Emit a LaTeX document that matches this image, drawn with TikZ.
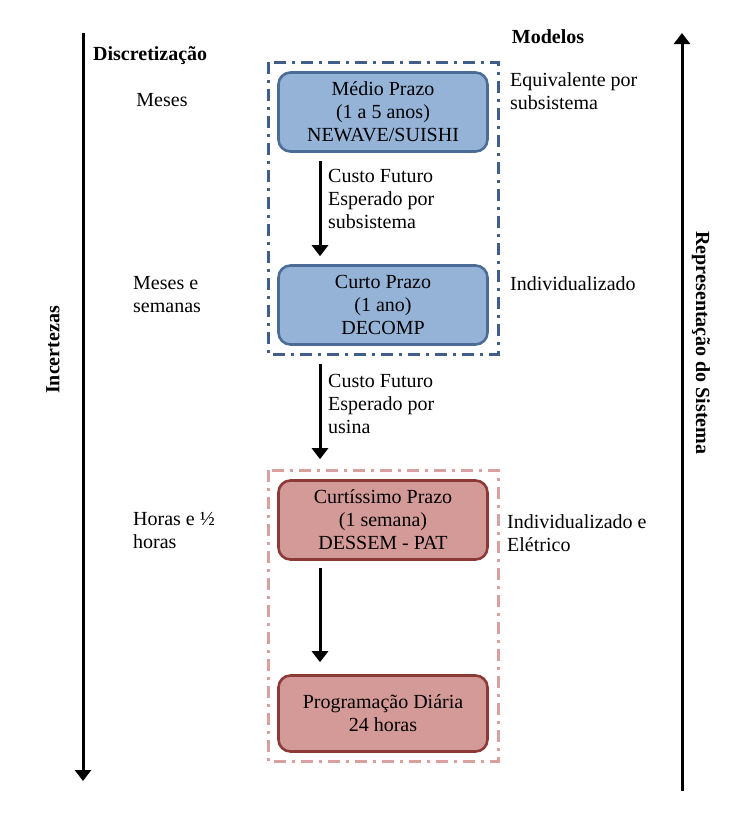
\documentclass[tikz,border=0pt]{standalone}
\usepackage{fontspec}
\setmainfont{Liberation Serif}
\usetikzlibrary{arrows.meta}
\definecolor{bfill}{HTML}{95B3D7}
\definecolor{bline}{HTML}{4A6C97}
\definecolor{bdash}{HTML}{3F5F8A}
\definecolor{rfill}{HTML}{D49A98}
\definecolor{rline}{HTML}{8C3A38}
\definecolor{rdash}{HTML}{D9A0A0}
\tikzset{
  every node/.style={font=\fontsize{20}{23}\selectfont, inner sep=0pt},
  modelbox/.style={draw, line width=2.6pt, rounded corners=12pt, minimum width=209pt, align=center},
  bluebox/.style={modelbox, draw=bline, fill=bfill},
  redbox/.style={modelbox, draw=rline, fill=rfill},
  dashframe/.style={line width=3pt, dash pattern=on 12pt off 6pt on 3pt off 6pt},
  arr/.style={line width=3pt, -{Triangle[width=16pt,length=11pt]}},
  lab/.style={anchor=west, align=left},
}
\begin{document}
\begin{tikzpicture}[x=1pt,y=-1pt]
\useasboundingbox (0,0) rectangle (754,828);
% frames
\draw[dashframe, bdash] (268,62) rectangle (498,354);
\draw[dashframe, rdash] (268,470) rectangle (498,761);
% boxes
\node[bluebox, minimum height=79pt] (m1) at (383,112) {Médio Prazo\\(1 a 5 anos)\\NEWAVE/SUISHI};
\node[bluebox, minimum height=79pt] (m2) at (383,305) {Curto Prazo\\(1 ano)\\DECOMP};
\node[redbox, minimum height=79pt] (m3) at (383,520) {Curtíssimo Prazo\\(1 semana)\\DESSEM - PAT};
\node[redbox, minimum height=76pt] (m4) at (383,713.5) {Programação Diária\\24 horas};
% arrows between boxes
\draw[arr] ([xshift=-63pt,yshift=-8pt]m1.south) -- ([xshift=-63pt,yshift=8pt]m2.north);
\draw[arr] ([xshift=-63pt,yshift=-18pt]m2.south) -- ([xshift=-63pt,yshift=20pt]m3.north);
\draw[arr] ([xshift=-63pt,yshift=-7pt]m3.south) -- ([xshift=-63pt,yshift=12pt]m4.north);
% arrow labels
\node[lab] (c1) at (328,199) {Custo Futuro\\Esperado por\\subsistema};
\node[lab] (c2) at (328,404) {Custo Futuro\\Esperado por\\usina};
% side axes
\coordinate (lt) at (83,33);
\coordinate (lb) at (83,781);
\coordinate (rb) at (682,791);
\coordinate (rt) at (682,33);
\draw[arr] (lt) -- (lb);
\draw[arr] (rb) -- (rt);
\node[rotate=90] (inc) at (53,350) {\textbf{Incertezas}};
\node[rotate=-90] (rep) at (701,343) {\textbf{Representação do Sistema}};
% headers
\node[anchor=west] (disc) at (93,56) {\textbf{Discretização}};
\node (mod) at (548,37) {\textbf{Modelos}};
% left labels
\node (l1) at (162,100) {Meses};
\node[lab] (l2) at (133,295) {Meses e\\semanas};
\node[lab] (l3) at (133,531) {Horas e ½\\horas};
% right labels
\node[lab] (r1) at (510,91) {Equivalente por\\subsistema};
\node[lab] (r2) at (510,284) {Individualizado};
\node[lab] (r3) at (507,533) {Individualizado e\\Elétrico};
\end{tikzpicture}
\end{document}
